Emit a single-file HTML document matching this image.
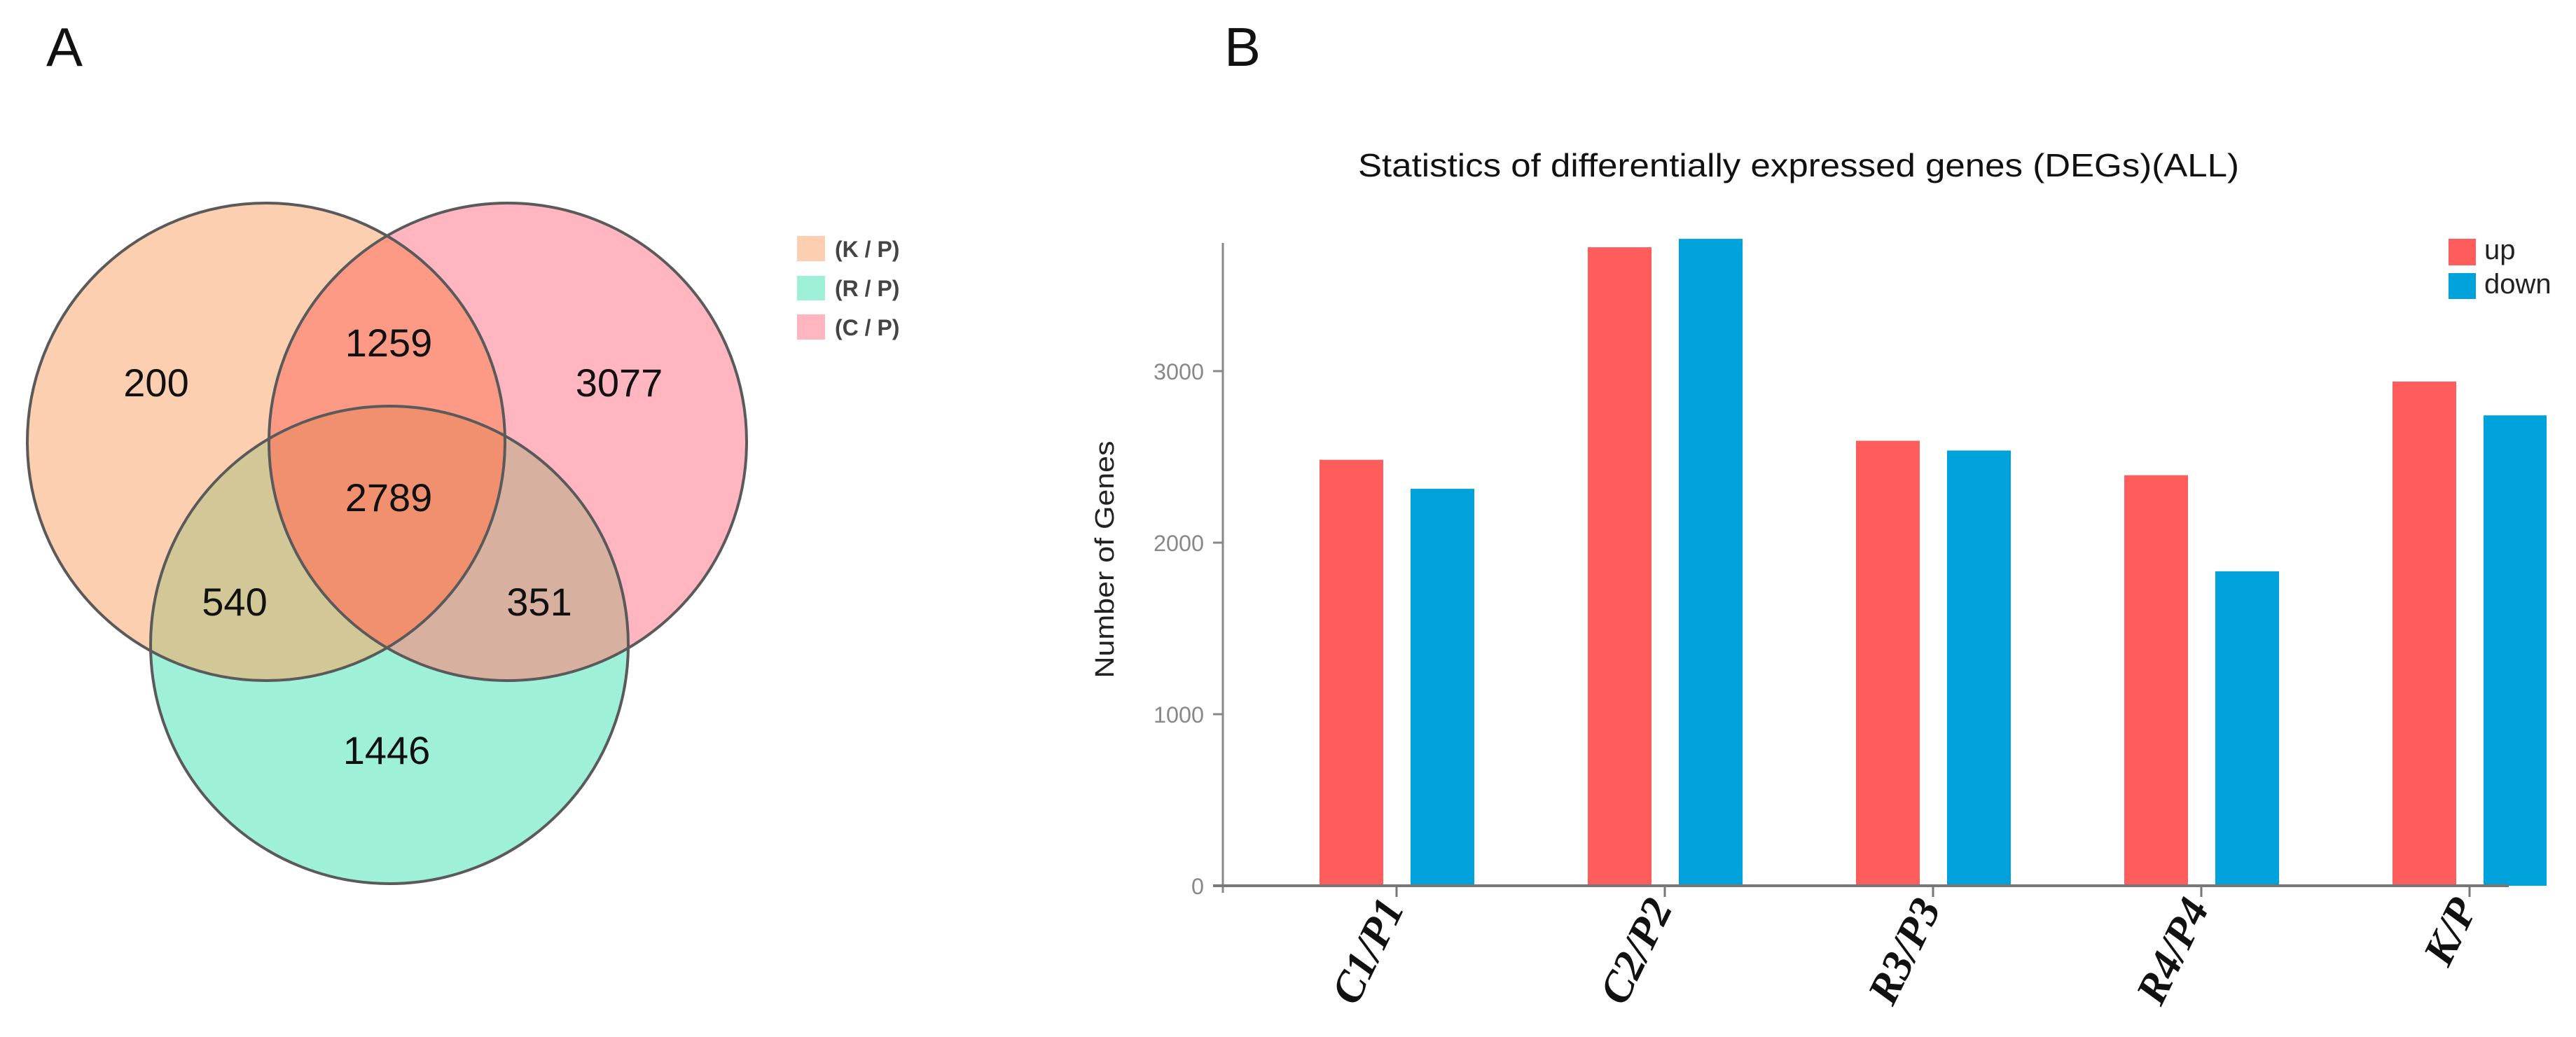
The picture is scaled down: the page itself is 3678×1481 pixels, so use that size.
<!DOCTYPE html>
<html><head><meta charset="utf-8"><style>
html,body{margin:0;padding:0;background:#fff;}
svg{display:block;}
</style></head><body>
<svg id="fig" width="3678" height="1481" viewBox="0 0 3678 1481" xmlns="http://www.w3.org/2000/svg">
<defs>
<clipPath id="cK"><circle cx="380" cy="631" r="341"/></clipPath>
<clipPath id="cC"><circle cx="725" cy="631" r="341"/></clipPath>
<clipPath id="cR"><circle cx="556" cy="921" r="341"/></clipPath>
<clipPath id="plotClip"><rect x="1746" y="0" width="1890" height="1481"/></clipPath>
</defs>
<rect width="3678" height="1481" fill="#fff"/>
<text x="66" y="94" font-family="Liberation Sans, sans-serif" font-size="78" fill="#111">A</text>
<g>
<circle cx="380" cy="631" r="341" fill="#fccfb0"/>
<circle cx="725" cy="631" r="341" fill="#ffb6c0"/>
<circle cx="556" cy="921" r="341" fill="#9ff0d8"/>
<g clip-path="url(#cK)"><circle cx="725" cy="631" r="341" fill="#fd9a86"/>
<circle cx="556" cy="921" r="341" fill="#d2c796"/></g>
<g clip-path="url(#cC)"><circle cx="556" cy="921" r="341" fill="#d8b0a0"/></g>
<g clip-path="url(#cK)"><g clip-path="url(#cC)"><circle cx="556" cy="921" r="341" fill="#f0906f"/></g></g>
<circle cx="380" cy="631" r="341" fill="none" stroke="#5a5a5a" stroke-width="4"/>
<circle cx="725" cy="631" r="341" fill="none" stroke="#5a5a5a" stroke-width="4"/>
<circle cx="556" cy="921" r="341" fill="none" stroke="#5a5a5a" stroke-width="4"/>
<g font-family="Liberation Sans, sans-serif" font-size="56" fill="#111" text-anchor="middle">
<text x="223" y="566">200</text>
<text x="555" y="509">1259</text>
<text x="884" y="566">3077</text>
<text x="555" y="730">2789</text>
<text x="335" y="879">540</text>
<text x="770" y="879">351</text>
<text x="552" y="1091">1446</text>
</g>
</g>
<g font-family="Liberation Sans, sans-serif" font-size="32" font-weight="bold" fill="#444">
<rect x="1138" y="337" width="40" height="36" fill="#fccfb0"/>
<text x="1192" y="367">(K / P)</text>
<rect x="1138" y="394" width="40" height="35" fill="#9ff0d8"/>
<text x="1192" y="423">(R / P)</text>
<rect x="1138" y="449" width="40" height="36" fill="#ffb6c0"/>
<text x="1192" y="479">(C / P)</text>
</g>
<text x="1748" y="94" font-family="Liberation Sans, sans-serif" font-size="78" fill="#111">B</text>
<text x="1939" y="252" textLength="1258" lengthAdjust="spacingAndGlyphs" font-family="Liberation Sans, sans-serif" font-size="46" fill="#111">Statistics of differentially expressed genes (DEGs)(ALL)</text>
<text transform="translate(1590,799) rotate(-90)" text-anchor="middle" textLength="339" lengthAdjust="spacingAndGlyphs" font-family="Liberation Sans, sans-serif" font-size="38" fill="#222">Number of Genes</text>
<g id="chart"></g>
<g font-family="Liberation Sans, sans-serif" font-size="40" fill="#222">
<rect x="3496" y="341" width="39" height="38" fill="#ff5c5c"/>
<text x="3547" y="370">up</text>
<rect x="3496" y="390" width="39" height="37" fill="#00a2db"/>
<text x="3547" y="419">down</text>
</g>
</svg>
<script>
const categories = ["C1/P1","C2/P2","R3/P3","R4/P4","K/P"];
const upValues = [2483, 3722, 2594, 2393, 2939];
const downValues = [2314, 3771, 2537, 1833, 2742];
const yTicks = [0, 1000, 2000, 3000];
const yTickLabels = ["0","1000","2000","3000"];

const NS = "http://www.w3.org/2000/svg";
const g = document.getElementById("chart");
const x0 = 1746, baseY = 1265, pxPer = 0.245, step = 383, firstCenter = 1994;
function yScale(v){ return baseY - v * pxPer; }
function xCenter(i){ return firstCenter + i * step; }
function mk(tag, attrs, parent){ const e = document.createElementNS(NS, tag); for (const k in attrs) e.setAttribute(k, attrs[k]); (parent||g).appendChild(e); return e; }

const yAxis = mk("line", {x1:x0, y1:347, x2:x0, y2:baseY+10, stroke:"#888", "stroke-width":3});


yTicks.forEach((t, i) => {
  const y = yScale(t);
  const tk = mk("line", {x1:x0-14, y1:y, x2:x0, y2:y, stroke:"#888", "stroke-width":3});
  
  
  const lb = mk("text", {x:1719, y:y+12, "text-anchor":"end", "font-family":"Liberation Sans, sans-serif", "font-size":"32", fill:"#888", textLength: 18*yTickLabels[i].length, lengthAdjust:"spacingAndGlyphs"});
  lb.textContent = yTickLabels[i];
  
  
});

const bars = mk("g", {"clip-path":"url(#plotClip)"});


const bw = 91;
categories.forEach((c, i) => {
  const cx = xCenter(i);
  const u = mk("rect", {x:cx-110, y:yScale(upValues[i]), width:bw, height:upValues[i]*pxPer, fill:"#ff5c5c"}, bars);
  
  
  const d = mk("rect", {x:cx+20, y:yScale(downValues[i]), width:bw, height:downValues[i]*pxPer, fill:"#00a2db"}, bars);
  
  
  const tk = mk("line", {x1:cx, y1:baseY, x2:cx, y2:baseY+16, stroke:"#777", "stroke-width":3});
  
  
  const lb = mk("text", {transform:"translate("+(cx+12)+",1296) rotate(-64)", "text-anchor":"end", "font-family":"Liberation Serif, serif", "font-size":"62", "font-weight":"bold", "font-style":"italic", fill:"#111"});
  lb.textContent = c;
  
  
});
const xAxis = mk("line", {x1:x0-14, y1:baseY, x2:3582, y2:baseY, stroke:"#777", "stroke-width":4});


</script>
</body></html>
